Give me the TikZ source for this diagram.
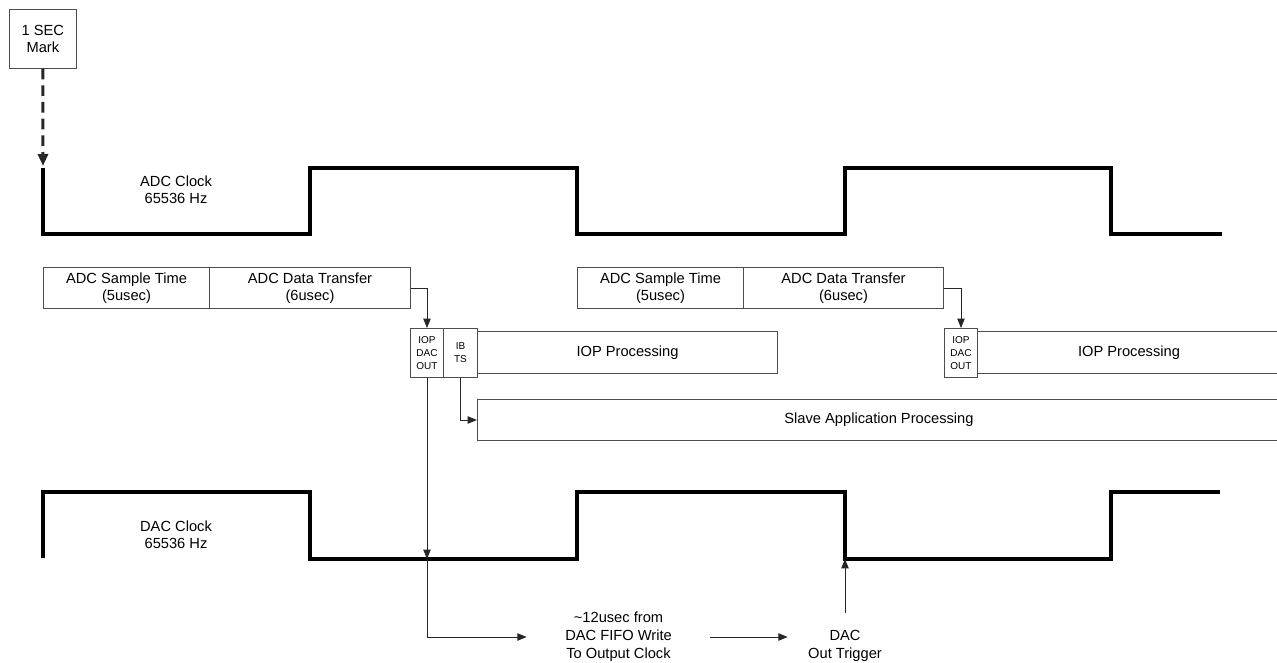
\documentclass[tikz,border=0pt]{standalone}
\usepackage{fontspec}
\setmainfont{Liberation Sans}
\usetikzlibrary{arrows.meta}

\tikzset{
  box/.style={draw=black!70, line width=0.75pt, inner sep=0pt, align=center,
    anchor=north west, font=\fontsize{11}{13}\selectfont},
  smallbox/.style={box, font=\fontsize{7.5}{9.8}\selectfont},
  lbl/.style={inner sep=0pt, align=center, font=\fontsize{11}{13}\selectfont},
  clk/.style={line width=3pt},
  arr/.style={draw=black!85, line width=0.75pt, -{Triangle[length=7pt,width=5.5pt]}}
}

\begin{document}
\begin{tikzpicture}[x=0.75pt,y=-0.75pt]
  \useasboundingbox (0,0) rectangle (1277,663);

  % second mark
  \node[box, minimum width=50pt, minimum height=44pt] (mark) at (9,9) {1 SEC\\Mark};
  \coordinate (adc0) at (43,166);
  \draw[arr, line width=2.25pt, dash pattern=on 8pt off 4.5pt,
    -{Triangle[length=9pt,width=7.5pt]}] (mark.south) -- (adc0);

  % ADC clock
  \draw[clk] (43,168) -- (43,234) -- (310,234) -- (310,168) -- (577,168) -- (577,234)
    -- (845,234) -- (845,168) -- (1111,168) -- (1111,234) -- (1222,234);
  \node[lbl] (adclbl) at (176,190) {ADC Clock\\65536 Hz};

  % ADC cycles
  \node[box, minimum width=124.5pt, minimum height=30.75pt] (samp) at (43,267) {ADC Sample Time\\(5usec)};
  \node[box, minimum width=150.75pt, minimum height=30.75pt] (xfer) at (209,267) {ADC Data Transfer\\(6usec)};
  \node[box, minimum width=124.5pt, minimum height=30.75pt] (samp2) at (577,267) {ADC Sample Time\\(5usec)};
  \node[box, minimum width=150pt, minimum height=30.75pt] (xfer2) at (743,267) {ADC Data Transfer\\(6usec)};

  % IOP and slave
  \node[smallbox, minimum width=24.75pt, minimum height=36.75pt] (iopdac) at (410,328) {IOP\\DAC\\OUT};
  \node[smallbox, minimum width=25.5pt, minimum height=36.75pt] (ibts) at (443,328) {IB\\TS};
  \node[box, minimum width=225pt, minimum height=31.5pt] (iop) at (477,331) {IOP Processing};
  \node[box, minimum width=602.25pt, minimum height=30.75pt] (slave) at (477,399) {Slave Application Processing};
  \node[smallbox, minimum width=24.75pt, minimum height=36.75pt] (iopdac2) at (944,328) {IOP\\DAC\\OUT};
  \node[box, minimum width=227.25pt, minimum height=31.5pt] (iop2) at (977,331) {IOP Processing};

  \draw[arr] (xfer.east) -| (iopdac.north);
  \draw[arr] (xfer2.east) -| (iopdac2.north);
  \draw[arr] (ibts.south) |- (slave.west);

  % DAC clock
  \draw[clk] (43,558) -- (43,492) -- (310,492) -- (310,559) -- (577,559) -- (577,492)
    -- (845,492) -- (845,559) -- (1111,559) -- (1111,492) -- (1220,492);
  \node[lbl] (daclbl) at (176,535) {DAC Clock\\65536 Hz};
  \coordinate (dacw) at (427,559);
  \coordinate (dactrig) at (845,559);

  % output delay
  \node[lbl, minimum width=137.25pt, font=\fontsize{11}{13.5}\selectfont] (fifo) at (618.5,637) {\textasciitilde12usec from\\DAC FIFO Write\\To Output Clock};
  \node[lbl, minimum width=85.5pt] (trig) at (845,646) {DAC\\Out Trigger};

  \draw[arr] (iopdac.south) -- (dacw);
  \draw[arr] (dacw) |- (fifo.west);
  \draw[arr] (fifo.east) -- (fifo.east -| trig.west);
  \draw[arr, shorten <=13pt] (trig.north) -- (dactrig);
\end{tikzpicture}
\end{document}
